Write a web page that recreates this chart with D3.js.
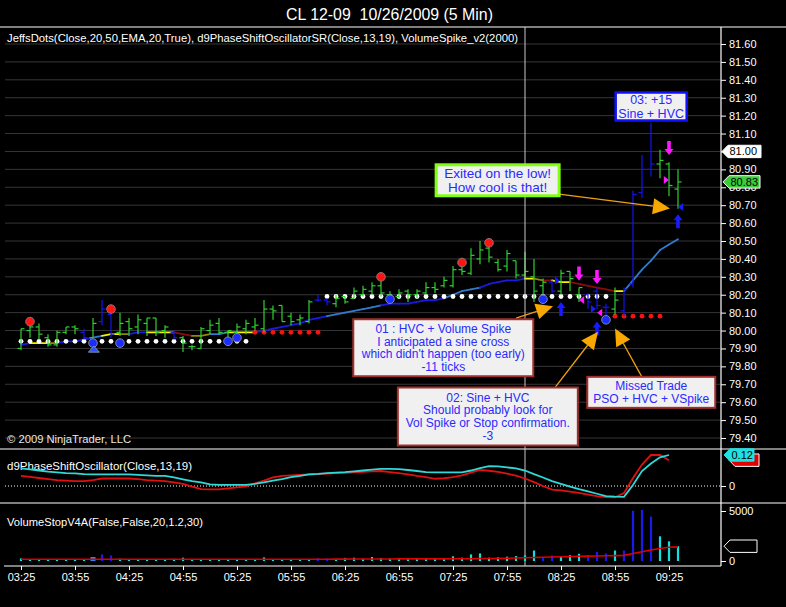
<!DOCTYPE html>
<html>
<head>
<meta charset="utf-8">
<script src="https://cdn.jsdelivr.net/npm/d3@7"></script>
<style>
  html, body { margin: 0; padding: 0; background: #000; }
  svg { display: block; font-family: "Liberation Sans", Arial, sans-serif; }
</style>
</head>
<body>
<svg id="chart" width="786" height="607"></svg>
<script>
// 5 minute bars, 03:25 .. 09:30 (74 bars)
const timeLabels = ['03:25', '03:55', '04:25', '04:55', '05:25', '05:55', '06:25',
  '06:55', '07:25', '07:55', '08:25', '08:55', '09:25'];
const timeTickBars = [0, 6, 12, 18, 24, 30, 36, 42, 48, 54, 60, 66, 72];

const priceTicks = [79.40, 79.50, 79.60, 79.70, 79.80, 79.90, 80.00, 80.10, 80.20, 80.30,
  80.40, 80.50, 80.60, 80.70, 80.80, 80.90, 81.00, 81.10, 81.20, 81.30, 81.40, 81.50, 81.60];

const opens = [
  79.90, 80.00, 80.02, 79.96, 79.92, 79.99, 80.02, 79.99, 79.96, 80.05,
  80.09, 79.99, 80.05, 80.02, 80.04, 80.07, 80.00, 79.99, 79.96, 79.91,
  79.90, 80.00, 80.04, 79.99, 79.99, 80.01, 80.02, 80.01, 80.12, 80.14,
  80.08, 80.06, 80.05, 80.17, 80.17, 80.15, 80.19, 80.18, 80.20, 80.22,
  80.25, 80.20, 80.19, 80.22, 80.20, 80.21, 80.24, 80.25, 80.25, 80.34,
  80.32, 80.40, 80.46, 80.38, 80.36, 80.39, 80.31, 80.30, 80.25, 80.27,
  80.22, 80.33, 80.20, 80.20, 80.22, 80.13, 80.12, 80.11, 80.26, 80.77,
  80.90, 80.93, 80.93, 80.79];
const highs = [
  80.01, 80.04, 80.04, 79.98, 80.00, 80.02, 80.03, 80.01, 80.07, 80.17,
  80.10, 80.10, 80.07, 80.09, 80.07, 80.07, 80.03, 80.00, 79.97, 79.92,
  80.02, 80.06, 80.07, 80.00, 80.04, 80.06, 80.07, 80.17, 80.14, 80.14,
  80.10, 80.09, 80.17, 80.20, 80.18, 80.20, 80.19, 80.24, 80.25, 80.27,
  80.29, 80.22, 80.23, 80.23, 80.23, 80.27, 80.27, 80.30, 80.36, 80.36,
  80.46, 80.50, 80.47, 80.40, 80.45, 80.39, 80.44, 80.40, 80.29, 80.28,
  80.34, 80.33, 80.24, 80.21, 80.24, 80.15, 80.24, 80.24, 80.78, 80.98,
  81.16, 81.01, 80.94, 80.90];
const lows = [
  79.89, 79.96, 79.95, 79.91, 79.91, 79.98, 79.98, 79.95, 79.96, 80.03,
  79.96, 79.97, 79.97, 79.98, 79.97, 79.97, 79.96, 79.95, 79.88, 79.89,
  79.90, 79.98, 79.98, 79.95, 79.97, 79.98, 80.00, 79.99, 80.06, 80.05,
  80.03, 80.03, 80.04, 80.16, 80.14, 80.13, 80.15, 80.18, 80.19, 80.20,
  80.19, 80.16, 80.18, 80.16, 80.18, 80.20, 80.21, 80.24, 80.24, 80.31,
  80.31, 80.37, 80.38, 80.33, 80.33, 80.29, 80.29, 80.16, 80.20, 80.21,
  80.20, 80.22, 80.16, 80.12, 80.12, 80.07, 80.09, 80.08, 80.24, 80.74,
  80.86, 80.85, 80.75, 80.68];
const closes = [
  80.01, 80.02, 79.98, 79.92, 79.99, 80.02, 80.01, 79.96, 80.04, 80.12,
  79.98, 80.04, 80.01, 80.06, 80.07, 79.99, 80.02, 79.96, 79.93, 79.91,
  80.01, 80.03, 79.99, 80.00, 80.02, 80.04, 80.03, 80.12, 80.11, 80.05,
  80.05, 80.07, 80.16, 80.17, 80.16, 80.18, 80.16, 80.22, 80.23, 80.25,
  80.21, 80.19, 80.21, 80.20, 80.22, 80.24, 80.23, 80.28, 80.34, 80.33,
  80.42, 80.45, 80.41, 80.34, 80.43, 80.31, 80.33, 80.22, 80.27, 80.22,
  80.32, 80.29, 80.24, 80.16, 80.14, 80.13, 80.17, 80.23, 80.76, 80.90,
  80.93, 80.95, 80.81, 80.83];
// g = green bar, b = blue bar
const barKinds = ('gggggggb' + 'gbbggggg' + 'gbgggggg' + 'gggggggg' + 'gbbggggg' +
  'gggggggg' + 'gggggggg' + 'gggbgggb' + 'bbgbbbbggg').split('');

// EMA(20) and the colour of each segment i -> i+1
const emaValues = [
  79.92, 79.93, 79.93, 79.93, 79.93, 79.94, 79.94, 79.95, 79.96, 79.97,
  79.98, 79.98, 79.98, 79.99, 79.99, 79.99, 79.99, 79.99, 79.98, 79.97,
  79.97, 79.98, 79.98, 79.99, 79.99, 79.99, 79.99, 80.00, 80.01, 80.02,
  80.03, 80.04, 80.06, 80.07, 80.08, 80.09, 80.10, 80.11, 80.12, 80.13,
  80.14, 80.15, 80.15, 80.15, 80.16, 80.17, 80.17, 80.18, 80.20, 80.22,
  80.23, 80.24, 80.26, 80.27, 80.28, 80.28, 80.29, 80.29, 80.28, 80.28,
  80.27, 80.27, 80.26, 80.25, 80.24, 80.23, 80.22, 80.22, 80.28, 80.34,
  80.39, 80.45, 80.48, 80.51];
const emaKinds = ('byyobbbb' + 'syyobbyy' + 'yrroossy' + 'yybbbbbb' + 'bbssssss' +
  'bbbbbbbs' + 'sssbbbbb' + 'yoryyrrr' + 'rryssssss').split('');

// JeffsDots trailing stop: w = white (support), r = red (resistance), - = none
const stopPrices = [
  79.94, 79.94, 79.94, 79.94, 79.94, 79.94, 79.94, 79.94, 79.94, 79.94,
  79.94, 79.94, 79.94, 79.94, 79.94, 79.94, 79.94, 79.94, 79.94, 79.94,
  79.94, 79.94, 79.94, 79.94, 79.94, 79.94, 79.99, 79.99, 79.99, 79.99,
  79.99, 79.99, 79.99, 79.99, 80.19, 80.19, 80.19, 80.19, 80.19, 80.19,
  80.19, 80.19, 80.19, 80.19, 80.19, 80.19, 80.19, 80.19, 80.19, 80.19,
  80.19, 80.19, 80.19, 80.19, 80.19, 80.19, 80.19, 80.19, 80.19, 80.19,
  80.19, 80.19, 80.19, 80.19, 80.19, 80.19, 80.08, 80.08, 80.08, 80.08,
  80.08, 80.08, null, null];
const stopKinds = ('wwwwwwwwww' + 'wwwwwwwwww' + 'wwwwww' + 'rrrrrrrr' +
  'wwwwwwwwww' + 'wwwwwwwwww' + 'wwwwwwwwww' + 'ww' + 'rrrrrr' + '--').split('');

const blueDotBars = [8, 11, 23, 24, 41, 58, 65];
const blueDotPrices = [79.93, 79.93, 79.94, 79.96, 80.175, 80.175, 80.06];
const redDotBars = [1, 10, 40, 49, 52];
const redDotPrices = [80.05, 80.12, 80.30, 80.38, 80.49];

const upArrowBars = [60, 64, 73];
const upArrowPrices = [80.16, 80.05, 80.65];
const downArrowBars = [62, 64, 72];
const downArrowPrices = [80.28, 80.26, 80.98];

const triBars = [8.1, 59.6, 62.3, 63.6, 64.3, 71.7, 73.3];
const triPrices = [79.896, 80.28, 80.17, 80.12, 80.10, 80.84, 80.69];
const triDirs = ['up', 'right', 'left', 'right', 'left', 'right', 'left'];
const triKinds = ['b', 'b', 'm', 'b', 'm', 'm', 'b'];

// d9PhaseShiftOscillator (bars 0..72)
const psoCyan = [
  0.068, 0.064, 0.060, 0.056, 0.053, 0.050, 0.049, 0.046, 0.045, 0.045,
  0.045, 0.045, 0.045, 0.043, 0.041, 0.039, 0.039, 0.033, 0.026, 0.019,
  0.014, 0.006, 0.004, 0.004, 0.004, 0.004, 0.008, 0.014, 0.021, 0.027,
  0.034, 0.039, 0.045, 0.047, 0.050, 0.052, 0.054, 0.057, 0.060, 0.063,
  0.066, 0.066, 0.065, 0.062, 0.058, 0.054, 0.053, 0.053, 0.053, 0.053,
  0.060, 0.069, 0.077, 0.076, 0.072, 0.068, 0.060, 0.046, 0.033, 0.019,
  0.008, -0.002, -0.012, -0.021, -0.030, -0.039, -0.041, -0.042, 0.004, 0.058,
  0.087, 0.111, 0.120];
const psoRed = [
  0.039, 0.035, 0.031, 0.027, 0.023, 0.021, 0.019, 0.019, 0.023, 0.029,
  0.029, 0.029, 0.029, 0.027, 0.023, 0.021, 0.019, 0.014, 0.008, -0.002,
  -0.012, -0.013, -0.013, -0.009, -0.005, -0.001, 0.010, 0.021, 0.033, 0.039,
  0.041, 0.043, 0.045, 0.046, 0.048, 0.050, 0.051, 0.053, 0.055, 0.057,
  0.058, 0.054, 0.050, 0.045, 0.039, 0.034, 0.028, 0.030, 0.034, 0.041,
  0.052, 0.062, 0.059, 0.055, 0.048, 0.040, 0.029, 0.015, 0.000, -0.014,
  -0.017, -0.022, -0.027, -0.033, -0.039, -0.043, -0.044, -0.027, 0.031, 0.083,
  0.120, 0.120, 0.100];

// VolumeStopV4A
const volumes = [
  260, 120, 110, 130, 110, 120, 150, 160, 400, 660,
  560, 230, 180, 150, 170, 160, 180, 210, 330, 160,
  150, 170, 140, 160, 150, 170, 200, 360, 180, 160,
  140, 180, 200, 280, 260, 190, 310, 330, 200, 400,
  280, 240, 300, 260, 250, 300, 250, 200, 470, 330,
  660, 760, 330, 360, 430, 490, 560, 1050, 400, 560,
  460, 590, 720, 590, 920, 760, 1050, 1050, 5030, 5100,
  4440, 2470, 1970, 1480];
const volKinds = ('cccccccc' + 'sbbccccc' + 'cccccccc' + 'cccccccc' + 'cbbccccc' +
  'cccccccc' + 'cccccccc' + 'ccbbcccb' + 'bbcbbbbccc').split('');
const volAvg = [
  170, 170, 170, 170, 170, 170, 170, 170, 175, 180,
  180, 180, 180, 175, 175, 175, 175, 175, 180, 180,
  175, 175, 170, 170, 170, 170, 170, 175, 175, 175,
  175, 175, 180, 180, 180, 185, 190, 195, 195, 200,
  205, 205, 210, 210, 210, 215, 215, 215, 220, 225,
  230, 245, 255, 265, 280, 300, 330, 355, 375, 400,
  430, 450, 470, 490, 505, 520, 540, 560, 750, 920,
  1100, 1250, 1380, 1410];

const crosshairBar = 56;

// chart notes, anchored at [bar, price]
const notes = [
  { lines: ['03: +15', 'Sine + HVC'], at: [70.02, 81.251], w: 71, h: 28, border: '#1010ff', bw: 2.5, fs: 12.5, lh: 13.5 },
  { lines: ['Exited on the low!', 'How cool is that!'], at: [52.96, 80.839], w: 123, h: 31, border: '#80ff10', bw: 3, fs: 13.5, lh: 14 },
  { lines: ['01 : HVC + Volume Spike', 'I anticipated a sine cross', "which didn't happen (too early)", '-11 ticks'], at: [46.92, 79.904], w: 180, h: 57, border: '#a0302c', bw: 2, fs: 12, lh: 12.7 },
  { lines: ['02: Sine + HVC', 'Should probably look for', 'Vol Spike or Stop confirmation.', '-3'], at: [51.87, 79.52], w: 180, h: 58, border: '#a0302c', bw: 2, fs: 12, lh: 12.7 },
  { lines: ['Missed Trade', 'PSO + HVC + VSpike'], at: [70.03, 79.655], w: 128, h: 31, border: '#a0302c', bw: 2, fs: 12, lh: 13 },
];
const noteArrowFrom = [[59.78, 80.762], [55.0, 80.069], [59.11, 79.667], [69.0, 79.740]];
const noteArrowTo = [[72.11, 80.682], [59.11, 80.136], [64.11, 79.993], [66.0, 80.012]];

const colors = {
  g: '#2fd02f', b: '#1414f4', m: '#ff18ff',
  emaB: '#1a1ae0', emaS: '#2f7bd0', emaY: '#f4f400', emaO: '#8c8c00', emaR: '#8b0a0a',
  volC: '#10e0e0', volB: '#1a1af0', volS: '#2b86f0',
};

const svg = d3.select('#chart');
const W = 786;

const x = d3.scaleLinear().domain([0, 73]).range([21, 678]);
const yPrice = d3.scaleLinear().domain([79.4, 81.6]).range([438, 44]);
const yOsc = d3.scaleLinear().domain([0, 0.12]).range([486, 455]);
const yVol = d3.scaleLinear().domain([0, 5000]).range([561, 511]);

svg.append('rect').attr('width', W).attr('height', 607).attr('fill', '#000');

// header
svg.append('text')
  .attr('x', 389.5).attr('y', 19.5).attr('text-anchor', 'middle')
  .attr('fill', '#fff').style('font-size', '16.5px').style('white-space', 'pre')
  .attr('textLength', 207).attr('lengthAdjust', 'spacingAndGlyphs')
  .text('CL 12-09  10/26/2009 (5 Min)');

// panel separators
[27, 449, 503].forEach((yy) => {
  svg.append('line').attr('x1', 0).attr('x2', W).attr('y1', yy).attr('y2', yy)
    .attr('stroke', '#fff').attr('stroke-width', 1.2);
});
svg.append('line').attr('x1', 4).attr('x2', 721).attr('y1', 566).attr('y2', 566)
  .attr('stroke', '#fff').attr('stroke-width', 1.2);
svg.append('line').attr('x1', 721).attr('x2', 721).attr('y1', 27).attr('y2', 566)
  .attr('stroke', '#fff').attr('stroke-width', 1.2);

// ---------- price panel ----------
svg.append('clipPath').attr('id', 'pclip')
  .append('rect').attr('x', 0).attr('y', 28).attr('width', 720).attr('height', 420);
const pg = svg.append('g').attr('clip-path', 'url(#pclip)');

pg.selectAll('.grid').data(priceTicks).enter().append('line')
  .attr('x1', 5).attr('x2', 720)
  .attr('y1', (d) => yPrice(d)).attr('y2', (d) => yPrice(d))
  .attr('stroke', '#363636').attr('stroke-width', 1);

svg.append('text').attr('x', 7).attr('y', 42).attr('fill', '#fff')
  .style('font-size', '11px').attr('textLength', 511).attr('lengthAdjust', 'spacingAndGlyphs')
  .text('JeffsDots(Close,20,50,EMA,20,True), d9PhaseShiftOscillatorSR(Close,13,19), VolumeSpike_v2(2000)');

svg.append('text').attr('x', 7).attr('y', 443).attr('fill', '#e8e8e8')
  .style('font-size', '11px').attr('textLength', 124).attr('lengthAdjust', 'spacingAndGlyphs')
  .text('\u00a9 2009 NinjaTrader, LLC');

// crosshair
svg.append('line').attr('x1', x(crosshairBar)).attr('x2', x(crosshairBar))
  .attr('y1', 27).attr('y2', 566).attr('stroke', '#c8c8c8').attr('stroke-width', 1);

// EMA segments
const emaColor = { b: colors.emaB, s: colors.emaS, y: colors.emaY, o: colors.emaO, r: colors.emaR };
pg.selectAll('.ema').data(emaKinds).enter().append('line')
  .attr('x1', (d, i) => x(i)).attr('y1', (d, i) => yPrice(emaValues[i]))
  .attr('x2', (d, i) => x(i + 1)).attr('y2', (d, i) => yPrice(emaValues[i + 1]))
  .attr('stroke', (d) => emaColor[d]).attr('stroke-width', 1.8).attr('stroke-linecap', 'round');

// stop dots
const stopIdx = d3.range(stopPrices.length).filter((i) => stopPrices[i] !== null);
pg.selectAll('.stop').data(stopIdx).enter().append('circle')
  .attr('cx', (i) => x(i)).attr('cy', (i) => yPrice(stopPrices[i]))
  .attr('r', 2.4)
  .attr('fill', (i) => (stopKinds[i] === 'w' ? '#fff' : '#ff1010'));

// OHLC bars
const bars = pg.selectAll('.bar').data(opens).enter().append('g')
  .attr('stroke', (d, i) => (barKinds[i] === 'g' ? colors.g : colors.b))
  .attr('stroke-width', 1.2);
bars.append('line')
  .attr('x1', (d, i) => x(i)).attr('x2', (d, i) => x(i))
  .attr('y1', (d, i) => yPrice(highs[i])).attr('y2', (d, i) => yPrice(lows[i]));
bars.append('line')
  .attr('x1', (d, i) => x(i) - 3.5).attr('x2', (d, i) => x(i))
  .attr('y1', (d) => yPrice(d)).attr('y2', (d) => yPrice(d));
bars.append('line')
  .attr('x1', (d, i) => x(i)).attr('x2', (d, i) => x(i) + 3.5)
  .attr('y1', (d, i) => yPrice(closes[i])).attr('y2', (d, i) => yPrice(closes[i]));

// blue and red signal dots
pg.selectAll('.bdot').data(blueDotBars).enter().append('circle')
  .attr('cx', (d) => x(d)).attr('cy', (d, i) => yPrice(blueDotPrices[i]))
  .attr('r', 4.3).attr('fill', '#1a2cff').attr('stroke', '#7d8aa0').attr('stroke-width', 1);
pg.selectAll('.rdot').data(redDotBars).enter().append('circle')
  .attr('cx', (d) => x(d)).attr('cy', (d, i) => yPrice(redDotPrices[i]))
  .attr('r', 4.3).attr('fill', '#ff1414').attr('stroke', '#9a7070').attr('stroke-width', 1);

// arrows
function upArrow(tx, ty) {
  return `M${tx},${ty} L${tx + 4.5},${ty + 6} L${tx + 1.8},${ty + 6} L${tx + 1.8},${ty + 14} ` +
    `L${tx - 1.8},${ty + 14} L${tx - 1.8},${ty + 6} L${tx - 4.5},${ty + 6} Z`;
}
function downArrow(tx, ty) {
  return `M${tx},${ty} L${tx + 4.5},${ty - 6} L${tx + 1.8},${ty - 6} L${tx + 1.8},${ty - 14} ` +
    `L${tx - 1.8},${ty - 14} L${tx - 1.8},${ty - 6} L${tx - 4.5},${ty - 6} Z`;
}
pg.selectAll('.uarr').data(upArrowBars).enter().append('path')
  .attr('d', (d, i) => upArrow(x(d), yPrice(upArrowPrices[i])))
  .attr('fill', '#1a1aff');
pg.selectAll('.darr').data(downArrowBars).enter().append('path')
  .attr('d', (d, i) => downArrow(x(d), yPrice(downArrowPrices[i])))
  .attr('fill', colors.m);

function triPath(cx, cy, dir) {
  if (dir === 'up') return `M${cx},${cy - 3} L${cx + 5.5},${cy + 3} L${cx - 5.5},${cy + 3} Z`;
  if (dir === 'right') return `M${cx + 2.5},${cy} L${cx - 2.5},${cy - 4} L${cx - 2.5},${cy + 4} Z`;
  return `M${cx - 2.5},${cy} L${cx + 2.5},${cy - 4} L${cx + 2.5},${cy + 4} Z`;
}
pg.selectAll('.tri').data(triBars).enter().append('path')
  .attr('d', (d, i) => triPath(x(d), yPrice(triPrices[i]), triDirs[i]))
  .attr('fill', (d, i) => (triKinds[i] === 'm' ? colors.m : (triDirs[i] === 'up' ? '#2a50ff' : '#1a1aff')))
  .attr('stroke', (d, i) => (triDirs[i] === 'up' ? '#8090a8' : 'none'))
  .attr('stroke-width', 1);

// note arrows (orange)
noteArrowFrom.forEach((from, k) => {
  const x0 = x(from[0]); const y0 = yPrice(from[1]);
  const x1 = x(noteArrowTo[k][0]); const y1 = yPrice(noteArrowTo[k][1]);
  const ang = Math.atan2(y1 - y0, x1 - x0);
  const len = 17; const hw = 8;
  const bx = x1 - len * Math.cos(ang); const by = y1 - len * Math.sin(ang);
  const px = -Math.sin(ang) * hw; const py = Math.cos(ang) * hw;
  svg.append('line').attr('x1', x0).attr('y1', y0).attr('x2', bx).attr('y2', by)
    .attr('stroke', '#f0a010').attr('stroke-width', 1.3);
  svg.append('path')
    .attr('d', `M${x1},${y1} L${bx + px},${by + py} L${bx - px},${by - py} Z`)
    .attr('fill', '#f8a800');
});

// note boxes
notes.forEach((n) => {
  const cx = x(n.at[0]); const cy = yPrice(n.at[1]);
  const g = svg.append('g');
  g.append('rect')
    .attr('x', cx - n.w / 2).attr('y', cy - n.h / 2).attr('width', n.w).attr('height', n.h)
    .attr('fill', '#f0f0f0').attr('stroke', n.border).attr('stroke-width', n.bw);
  const top = cy - ((n.lines.length - 1) * n.lh) / 2;
  n.lines.forEach((t, j) => {
    g.append('text').attr('x', cx).attr('y', top + j * n.lh).attr('dy', '0.36em')
      .attr('text-anchor', 'middle').attr('fill', '#2a2aff')
      .style('font-size', `${n.fs}px`).text(t);
  });
});

function styleAxis(g) {
  g.attr('font-family', null).attr('font-size', null);
  g.select('.domain').remove();
  g.selectAll('line').attr('stroke', '#fff');
  g.selectAll('text').attr('fill', '#fff').style('font-size', '11px');
}

// price axis
const priceAxis = d3.axisRight(yPrice).tickValues(priceTicks)
  .tickSize(5).tickPadding(3).tickFormat(d3.format('.2f'));
svg.append('g').attr('transform', 'translate(721,0)').call(priceAxis).call(styleAxis);

function tag(yy, x0, x1, fill, stroke, label, textFill) {
  const h = 6.2;
  svg.append('path')
    .attr('d', `M${x0},${yy} L${x0 + 6},${yy - h} L${x1},${yy - h} L${x1},${yy + h} L${x0 + 6},${yy + h} Z`)
    .attr('fill', fill).attr('stroke', stroke).attr('stroke-width', 1);
  if (label) {
    svg.append('text').attr('x', x0 + 7.5).attr('y', yy).attr('dy', '0.36em')
      .attr('fill', textFill).style('font-size', '11px').text(label);
  }
}
tag(yPrice(81.00), 722, 761, '#fff', '#fff', '81.00', '#000');
const lastClose = closes[closes.length - 1];
tag(yPrice(lastClose), 723, 760, '#3ccc3c', '#fff', lastClose.toFixed(2), '#000');

// ---------- oscillator panel ----------
svg.append('text').attr('x', 7).attr('y', 470).attr('fill', '#fff')
  .style('font-size', '11px').attr('textLength', 185).attr('lengthAdjust', 'spacingAndGlyphs')
  .text('d9PhaseShiftOscillator(Close,13,19)');
svg.append('line').attr('x1', 5).attr('x2', 720).attr('y1', yOsc(0)).attr('y2', yOsc(0))
  .attr('stroke', '#fff').attr('stroke-dasharray', '1,2');

const oscLine = d3.line().x((d, i) => x(i)).y((d) => yOsc(d));
svg.append('path').datum(psoRed).attr('d', oscLine)
  .attr('fill', 'none').attr('stroke', '#e01010').attr('stroke-width', 1.8);
svg.append('path').datum(psoCyan).attr('d', oscLine)
  .attr('fill', 'none').attr('stroke', '#30d8d8').attr('stroke-width', 1.8);

const oscAxis = d3.axisRight(yOsc).tickValues([0]).tickSize(5).tickPadding(3)
  .tickFormat(d3.format('d'));
svg.append('g').attr('transform', 'translate(721,0)').call(oscAxis).call(styleAxis);
const lastRed = psoRed[psoRed.length - 1];
const lastCyan = psoCyan[psoCyan.length - 1];
// the red marker sits under the cyan one, its value hidden as in the source
tag(yOsc(lastRed), 729, 759, '#e00000', '#fff', null, '#fff');
tag(yOsc(lastCyan), 724, 754, '#20e0e0', '#20e0e0', lastCyan.toFixed(2), '#000');

// ---------- volume panel ----------
svg.append('text').attr('x', 7).attr('y', 526).attr('fill', '#fff')
  .style('font-size', '11px').attr('textLength', 196).attr('lengthAdjust', 'spacingAndGlyphs')
  .text('VolumeStopV4A(False,False,20,1.2,30)');

const volColor = { c: colors.volC, b: colors.volB, s: colors.volS };
svg.selectAll('.vol').data(volumes).enter().append('rect')
  .attr('x', (d, i) => x(i) - (volKinds[i] === 's' ? 2.5 : 1.1))
  .attr('width', (d, i) => (volKinds[i] === 's' ? 5 : 2.2))
  .attr('y', (d) => yVol(d)).attr('height', (d) => yVol(0) - yVol(d))
  .attr('fill', (d, i) => volColor[volKinds[i]]);

svg.append('path').datum(volAvg)
  .attr('d', d3.line().x((d, i) => x(i)).y((d) => yVol(d)))
  .attr('fill', 'none').attr('stroke', '#e00000').attr('stroke-width', 1.6);

const volAxis = d3.axisRight(yVol).tickValues([0, 5000]).tickSize(5).tickPadding(3)
  .tickFormat(d3.format('d'));
svg.append('g').attr('transform', 'translate(721,0)').call(volAxis).call(styleAxis);
tag(yVol(volumes[volumes.length - 1]), 724, 757, '#000', '#fff', null, '#fff');

// time axis
const timeAxis = d3.axisBottom(x).tickValues(timeTickBars).tickSize(4).tickPadding(3)
  .tickFormat((d, i) => timeLabels[i]);
svg.append('g').attr('transform', 'translate(0,566)').call(timeAxis).call(styleAxis);
</script>
</body>
</html>
